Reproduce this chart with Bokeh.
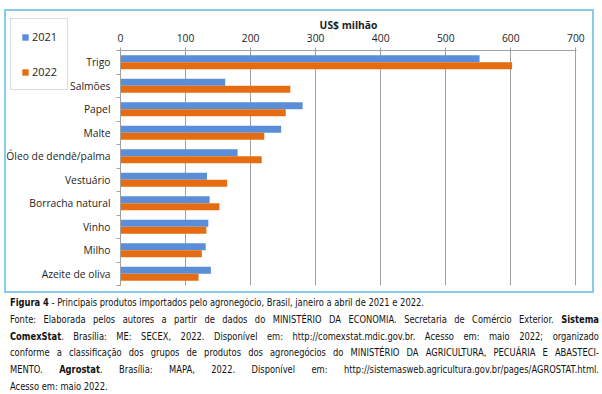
from bokeh.plotting import figure
from bokeh.models import (ColumnDataSource, FixedTicker, Legend, LegendItem,
                          Div, Range1d)
from bokeh.layouts import column, row
from bokeh.core.properties import value
from bokeh.embed import file_html
from bokeh.resources import INLINE

produtos = ["Trigo", "Salmões", "Papel", "Malte", "Óleo de dendê/palma",
            "Vestuário", "Borracha natural", "Vinho", "Milho", "Azeite de oliva"]
v2021 = [552, 161, 280, 247, 180, 133, 137, 135, 131, 139]
v2022 = [602, 261, 254, 221, 217, 164, 152, 132, 125, 120]
x_ticks = [0, 100, 200, 300, 400, 500, 600, 700]
anos = ["2021", "2022"]

BLUE = "#5b8ed8"
ORANGE = "#e56c10"
FONT = "Open Sans"
FS = "10.3px"
TXT = "#1e1e1e"
GRID = "#a0a0a0"

# layout constants (pixels)
W = 586            # chart width inside the frame border
H = 280            # chart height inside the frame border
TOP = 39           # space above plot area
BOTTOM = 6         # space below plot area
WL = 108           # width of label/legend panel
WM = W - WL        # width of main plot
LEFT_M = 6
RIGHT_M = 16

n = len(produtos)
centers = [n - i - 0.5 for i in range(n)]
bounds = list(range(n + 1))
ppu = (H - TOP - BOTTOM) / n

src = ColumnDataSource(dict(
    y21=[c + 0.15 for c in centers],
    y22=[c - 0.15 for c in centers],
    v21=v2021, v22=v2022,
))

# ---- main plot
p = figure(width=WM, height=H, output_backend="svg", toolbar_location=None,
           title=None,
           x_range=Range1d(0, 701), y_range=Range1d(0, n),
           x_axis_location="above",
           min_border_left=LEFT_M, min_border_right=RIGHT_M,
           min_border_top=TOP, min_border_bottom=BOTTOM)
p.outline_line_color = None
p.frame_align = False

p.hbar(y="y21", right="v21", left=0, height=0.3, source=src,
       fill_color=BLUE, line_color=None)
p.hbar(y="y22", right="v22", left=0, height=0.3, source=src,
       fill_color=ORANGE, line_color=None)

xa = p.xaxis[0]
xa.ticker = FixedTicker(ticks=x_ticks)
xa.axis_label = "US$ milhão"
xa.axis_label_text_font = FONT
xa.axis_label_text_font_style = "bold"
xa.axis_label_text_font_size = FS
xa.axis_label_text_color = TXT
xa.axis_label_standoff = -1
xa.major_label_text_font = FONT
xa.major_label_text_font_size = FS
xa.major_label_text_color = TXT
xa.major_label_standoff = 6
xa.axis_line_color = GRID
xa.major_tick_line_color = GRID
xa.major_tick_out = 3
xa.major_tick_in = 0
xa.minor_tick_line_color = None

ya = p.yaxis[0]
ya.ticker = FixedTicker(ticks=[], minor_ticks=bounds)
ya.major_label_standoff = 0
ya.axis_line_color = GRID
ya.major_tick_line_color = None
ya.minor_tick_line_color = GRID
ya.minor_tick_out = 4
ya.minor_tick_in = 0

p.xgrid.grid_line_color = GRID
p.xgrid.ticker = FixedTicker(ticks=x_ticks[1:])
p.ygrid.grid_line_color = None

# ---- label / legend panel (same vertical scale as the main plot)
lp = figure(width=WL, height=H, output_backend="svg", toolbar_location=None,
            title=None,
            x_range=Range1d(0, WL),
            y_range=Range1d(-BOTTOM / ppu, n + TOP / ppu),
            x_axis_type=None, y_axis_type=None,
            min_border=0, min_border_left=0, min_border_right=0,
            min_border_top=0, min_border_bottom=0)
lp.outline_line_color = None
lp.grid.visible = False
lp.frame_align = False

lab_src = ColumnDataSource(dict(y=centers, name=produtos))
lp.text(x=WL - 4, y="y", text="name", source=lab_src,
        text_align="right", text_baseline="middle",
        text_font=value(FONT), text_font_size=FS, text_color=TXT)

# zero-height bars: they draw nothing here but give the legend its swatches
e21 = lp.hbar(y="y21", right="v21", left=0, height=0, source=src,
              fill_color=BLUE, line_color=None)
e22 = lp.hbar(y="y22", right="v22", left=0, height=0, source=src,
              fill_color=ORANGE, line_color=None)

legend = Legend(items=[LegendItem(label=anos[0], renderers=[e21]),
                       LegendItem(label=anos[1], renderers=[e22])],
                location=(4, 201))
legend.border_line_color = "#a9b9d6"
legend.border_line_width = 1
legend.background_fill_color = "white"
legend.padding = 10
legend.spacing = 20
legend.glyph_width = 8
legend.glyph_height = 8
legend.label_height = 10
legend.label_standoff = 3
legend.label_text_font = FONT
legend.label_text_font_size = "11px"
legend.label_text_color = TXT
legend.margin = 0
lp.add_layout(legend, "center")

chart = row(lp, p, spacing=0, margin=(9, 0, 0, 4),
            styles={"border": "2px solid #86cbe8"})

line_style = "margin:0;padding:0;height:16.8px;line-height:16.8px;white-space:nowrap;"
just = line_style + "text-align:justify;text-align-last:justify;"
left = line_style + "text-align:left;"
SC = 0.834
CW = 589
caption_html = (
    f'<div style="width:{CW}px;margin-left:5px;height:100px;overflow:hidden;">'
    f'<div style="width:{CW / SC:.1f}px;transform:scaleX({SC});transform-origin:0 0;'
    'font-family:\'DejaVu Sans\',sans-serif;font-size:10px;color:#111;margin-top:-3px;">'
    f'<div style="{left}"><b>Figura 4</b> - Principais produtos importados pelo agronegócio, Brasil, janeiro a abril de 2021 e 2022.</div>'
    f'<div style="{just}">Fonte: Elaborada pelos autores a partir de dados do MINISTÉRIO DA ECONOMIA. Secretaria de Comércio Exterior. <b>Sistema</b></div>'
    f'<div style="{just}"><b>ComexStat</b>. Brasília: ME: SECEX, 2022. Disponível em: http://comexstat.mdic.gov.br. Acesso em: maio 2022; organizado</div>'
    f'<div style="{just}">conforme a classificação dos grupos de produtos dos agronegócios do MINISTÉRIO DA AGRICULTURA, PECUÁRIA E ABASTECI-</div>'
    f'<div style="{just}">MENTO. <b>Agrostat</b>. Brasília: MAPA, 2022. Disponível em: http://sistemasweb.agricultura.gov.br/pages/AGROSTAT.html.</div>'
    f'<div style="{left}">Acesso em: maio 2022.</div>'
    '</div></div>'
)
caption = Div(text=caption_html, width=598, height=100)

layout = column(chart, caption, spacing=0)
open("out.html", "w").write(file_html(layout, INLINE))
